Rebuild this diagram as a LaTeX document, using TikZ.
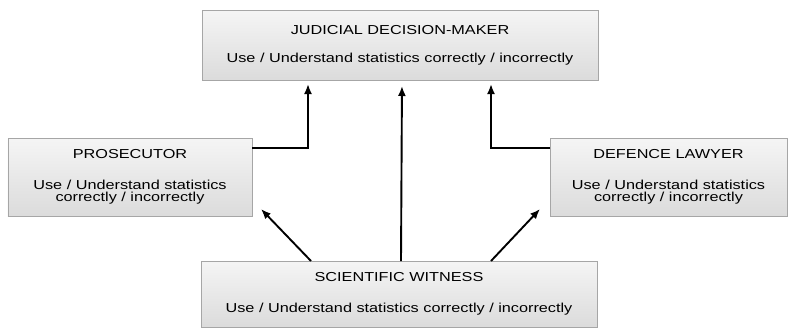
\documentclass[tikz,border=0pt]{standalone}
\usepackage{fontspec}
\setmainfont{Liberation Sans}[FakeStretch=1.25]
\usetikzlibrary{positioning,arrows.meta,calc}

\begin{document}
\begin{tikzpicture}[
	x=1bp, y=-1bp,
	font=\fontsize{13bp}{12bp}\selectfont,
	actor/.style={
		draw=gray!70,
		line width=0.9bp,
		top color=gray!8,
		bottom color=gray!28,
		align=center,
		inner sep=0pt,
		outer sep=0pt,
	},
	wide/.style={actor, minimum width=396bp},
	side/.style={actor, minimum height=78bp},
	arr/.style={-{Latex[length=10bp,width=8bp]}, line width=1.9bp, shorten >=4bp},
]
\useasboundingbox (0,0) rectangle (788,328);

% --- Boxes ---
\node[wide, minimum height=70bp] (judge) at (400,45) {%
	JUDICIAL DECISION-MAKER\\[16bp]
	Use / Understand statistics correctly / incorrectly%
};

\node[side, minimum width=244bp] (pros) at (130,177) {%
	PROSECUTOR\\[19.5bp]
	Use / Understand statistics\\
	correctly / incorrectly%
};

\node[side, minimum width=237bp] (def) at (668.5,177) {%
	DEFENCE LAWYER\\[19.5bp]
	Use / Understand statistics\\
	correctly / incorrectly%
};

\node[wide, minimum height=66bp] (wit) at (399,294) {%
	SCIENTIFIC WITNESS\\[19bp]
	Use / Understand statistics correctly / incorrectly%
};

% --- Elbow arrows to the judge ---
\coordinate (pBend) at (308,148);
\coordinate (dBend) at (491,148);
\draw[arr] (pros.east |- pBend) -- (pBend) -- (pBend |- judge.south);
\draw[arr] (def.west |- dBend) -- (dBend) -- (dBend |- judge.south);

% --- Arrows from the witness ---
\draw[arr, shorten >=6bp] ($(wit.north)+(2,0)$) -- ($(judge.south)+(2,0)$);
\draw[arr, shorten >=0pt] ($(wit.north west)+(110,0)$) -- ($(pros.south east)+(9,-7)$);
\draw[arr, shorten >=0pt] ($(wit.north east)+(-106,0)$) -- ($(def.south west)+(-10,-7)$);

\end{tikzpicture}
\end{document}
